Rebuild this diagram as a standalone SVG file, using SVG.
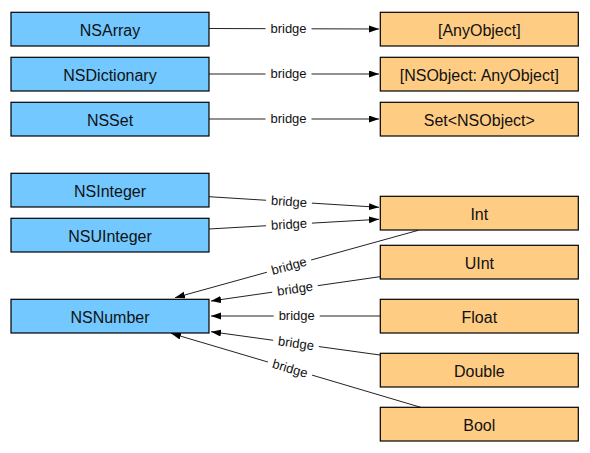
<svg xmlns="http://www.w3.org/2000/svg" width="590" height="453" viewBox="0 0 590 453">
<defs>
<marker id="arr" markerUnits="userSpaceOnUse" markerWidth="12" markerHeight="8" refX="10" refY="3.5" orient="auto">
<path d="M0,0 L10,3.5 L0,7 z" fill="#000"/>
</marker>
<style>
.ns{fill:#72C8FF;stroke:#000;stroke-width:1.2}
.sw{fill:#FFCC84;stroke:#000;stroke-width:1.2}
.t{font-family:"Liberation Sans",Arial,sans-serif;font-size:16px;fill:#111;text-anchor:middle}
.ln{stroke:#222;stroke-width:1;fill:none;marker-end:url(#arr)}
.lb{font-family:"Liberation Sans",Arial,sans-serif;font-size:13px;fill:#111;text-anchor:middle}
.bg{fill:#fff}
</style>
</defs>
<rect width="590" height="453" fill="#fff"/>
<g id="connectors">
<line class="ln" x1="209" y1="28.5" x2="379" y2="29"/>
<line class="ln" x1="209" y1="74" x2="379" y2="74"/>
<line class="ln" x1="209" y1="119" x2="379" y2="119"/>
<line class="ln" x1="209" y1="196.7" x2="379" y2="207.3"/>
<line class="ln" x1="209" y1="229" x2="379" y2="219.3"/>
<line class="ln" x1="418.3" y1="230.3" x2="175" y2="297.7"/>
<line class="ln" x1="380" y1="276.7" x2="211" y2="301"/>
<line class="ln" x1="380" y1="316" x2="211" y2="316"/>
<line class="ln" x1="380" y1="355" x2="211" y2="331.7"/>
<line class="ln" x1="420.7" y1="407.3" x2="171" y2="333.3"/>
<g transform="translate(288.5,28.8)"><rect class="bg" x="-23" y="-7" width="46" height="14"/><text class="lb" y="4.3">bridge</text></g>
<g transform="translate(288.5,74)"><rect class="bg" x="-23" y="-7" width="46" height="14"/><text class="lb" y="4.3">bridge</text></g>
<g transform="translate(288.5,119)"><rect class="bg" x="-23" y="-7" width="46" height="14"/><text class="lb" y="4.3">bridge</text></g>
<g transform="translate(289,201.7) rotate(3.6)"><rect class="bg" x="-23" y="-7" width="46" height="14"/><text class="lb" y="4.3">bridge</text></g>
<g transform="translate(289,224.4) rotate(-3.3)"><rect class="bg" x="-23" y="-7" width="46" height="14"/><text class="lb" y="4.3">bridge</text></g>
<g transform="translate(289,266) rotate(-15.6)"><rect class="bg" x="-23" y="-7" width="46" height="14"/><text class="lb" y="4.3">bridge</text></g>
<g transform="translate(295,288.9) rotate(-8.2)"><rect class="bg" x="-23" y="-7" width="46" height="14"/><text class="lb" y="4.3">bridge</text></g>
<g transform="translate(296.7,316)"><rect class="bg" x="-23" y="-7" width="46" height="14"/><text class="lb" y="4.3">bridge</text></g>
<g transform="translate(296,343.4) rotate(7.85)"><rect class="bg" x="-23" y="-7" width="46" height="14"/><text class="lb" y="4.3">bridge</text></g>
<g transform="translate(290,368.6) rotate(16.5)"><rect class="bg" x="-23" y="-7" width="46" height="14"/><text class="lb" y="4.3">bridge</text></g>
</g>
<g id="NSArray"><rect class="ns" x="11" y="12.3" width="198" height="33.7"/><text class="t" x="110" y="35.8">NSArray</text></g>
<g id="NSDictionary"><rect class="ns" x="11" y="57.3" width="198" height="33.7"/><text class="t" x="110" y="80.8">NSDictionary</text></g>
<g id="NSSet"><rect class="ns" x="11" y="102.3" width="198" height="33.7"/><text class="t" x="110" y="125.8">NSSet</text></g>
<g id="NSInteger"><rect class="ns" x="11" y="173.3" width="198" height="33.7"/><text class="t" x="110" y="196.8">NSInteger</text></g>
<g id="NSUInteger"><rect class="ns" x="11" y="218.3" width="198" height="33.7"/><text class="t" x="110" y="241.8">NSUInteger</text></g>
<g id="NSNumber"><rect class="ns" x="11" y="299.3" width="198" height="33.7"/><text class="t" x="110" y="322.8">NSNumber</text></g>
<g id="AnyObjectArray"><rect class="sw" x="380.3" y="12.3" width="198" height="33.7"/><text class="t" x="479.3" y="35.8">[AnyObject]</text></g>
<g id="Dictionary"><rect class="sw" x="380.3" y="57.3" width="198" height="33.7"/><text class="t" x="479.3" y="80.8">[NSObject: AnyObject]</text></g>
<g id="SetNSObject"><rect class="sw" x="380.3" y="102.3" width="198" height="33.7"/><text class="t" x="479.3" y="125.8">Set&lt;NSObject&gt;</text></g>
<g id="Int"><rect class="sw" x="380.3" y="196.3" width="198" height="33.7"/><text class="t" x="479.3" y="219.8">Int</text></g>
<g id="UInt"><rect class="sw" x="380.3" y="245.3" width="198" height="33.7"/><text class="t" x="479.3" y="268.8">UInt</text></g>
<g id="Float"><rect class="sw" x="380.3" y="299.3" width="198" height="33.7"/><text class="t" x="479.3" y="322.8">Float</text></g>
<g id="Double"><rect class="sw" x="380.3" y="353.3" width="198" height="33.7"/><text class="t" x="479.3" y="376.8">Double</text></g>
<g id="Bool"><rect class="sw" x="380.3" y="407.3" width="198" height="33.7"/><text class="t" x="479.3" y="430.8">Bool</text></g>
</svg>
